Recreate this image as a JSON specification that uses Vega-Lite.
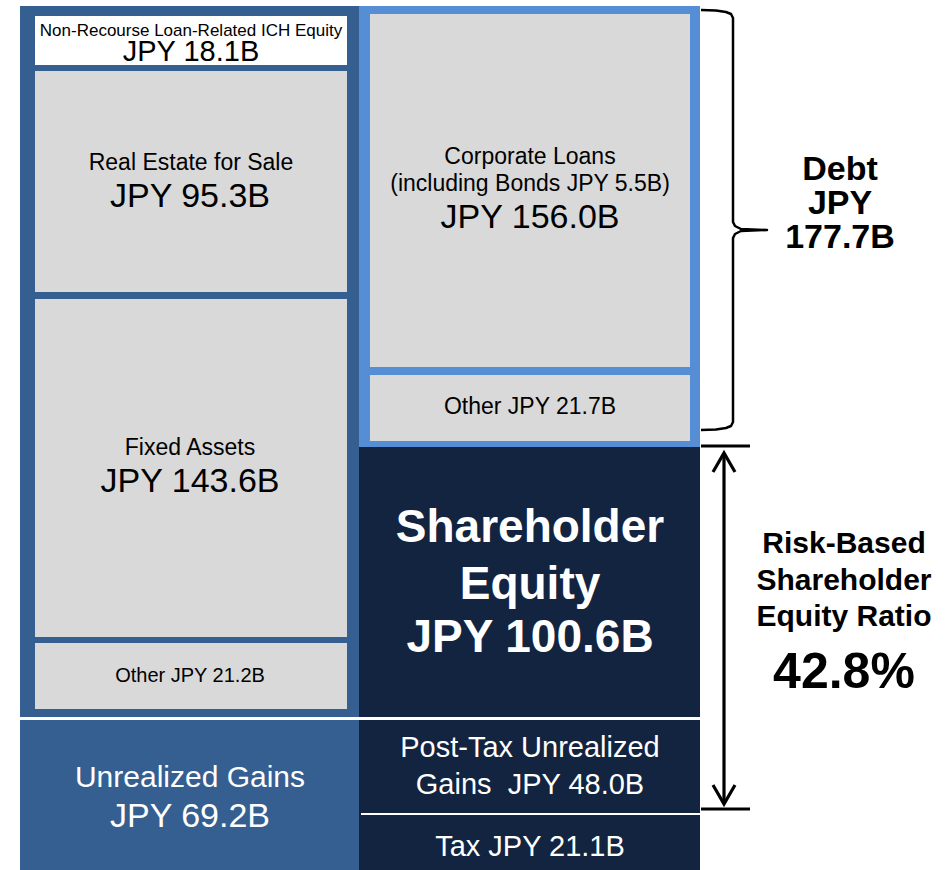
{
  "$schema": "https://vega.github.io/schema/vega-lite/v6.json",
  "width": 948,
  "height": 870,
  "padding": 0,
  "autosize": {"type": "fit", "contains": "padding"},
  "background": "white",
  "config": {"view": {"stroke": null}, "text": {"font": "Liberation Sans"}},
  "datasets": {
    "boxes": [
      {"name": "Assets frame", "kind": "dark", "x0": 20, "x1": 359, "y0": 6, "y1": 717},
      {"name": "Non-Recourse Loan-Related ICH Equity", "kind": "white", "x0": 35, "x1": 347, "y0": 16, "y1": 65},
      {"name": "Real Estate for Sale", "kind": "gray", "x0": 35, "x1": 347, "y0": 71, "y1": 292},
      {"name": "Fixed Assets", "kind": "gray", "x0": 35, "x1": 347, "y0": 299, "y1": 637},
      {"name": "Other assets", "kind": "gray", "x0": 35, "x1": 347, "y0": 643, "y1": 709},
      {"name": "Unrealized Gains", "kind": "dark", "x0": 20, "x1": 359, "y0": 720, "y1": 870},
      {"name": "Debt frame", "kind": "light", "x0": 359, "x1": 700, "y0": 6, "y1": 447},
      {"name": "Corporate Loans", "kind": "gray", "x0": 370, "x1": 690, "y0": 14, "y1": 367},
      {"name": "Other debt", "kind": "gray", "x0": 370, "x1": 690, "y0": 375, "y1": 441},
      {"name": "Shareholder Equity", "kind": "navy", "x0": 359, "x1": 700, "y0": 447, "y1": 717},
      {"name": "Post-Tax Unrealized Gains / Tax", "kind": "navy", "x0": 359, "x1": 700, "y0": 720, "y1": 870}
    ],
    "strokes": [
      {"g": "brace", "o": 1, "x": 701, "y": 10},
      {"g": "brace", "o": 2, "x": 716, "y": 10.5},
      {"g": "brace", "o": 3, "x": 726, "y": 12},
      {"g": "brace", "o": 4, "x": 731, "y": 14},
      {"g": "brace", "o": 5, "x": 733, "y": 18},
      {"g": "brace", "o": 6, "x": 733, "y": 222},
      {"g": "brace", "o": 7, "x": 735, "y": 226},
      {"g": "brace", "o": 8, "x": 741, "y": 229},
      {"g": "brace", "o": 9, "x": 767, "y": 230},
      {"g": "brace", "o": 10, "x": 741, "y": 231},
      {"g": "brace", "o": 11, "x": 735, "y": 234},
      {"g": "brace", "o": 12, "x": 733, "y": 238},
      {"g": "brace", "o": 13, "x": 733, "y": 422},
      {"g": "brace", "o": 14, "x": 731, "y": 426},
      {"g": "brace", "o": 15, "x": 726, "y": 428},
      {"g": "brace", "o": 16, "x": 716, "y": 429.5},
      {"g": "brace", "o": 17, "x": 701, "y": 430},
      {"g": "shaft", "o": 1, "x": 724, "y": 453},
      {"g": "shaft", "o": 2, "x": 724, "y": 804},
      {"g": "headtop", "o": 1, "x": 713, "y": 472},
      {"g": "headtop", "o": 2, "x": 724, "y": 453},
      {"g": "headtop", "o": 3, "x": 735, "y": 472},
      {"g": "headbot", "o": 1, "x": 713, "y": 785},
      {"g": "headbot", "o": 2, "x": 724, "y": 804},
      {"g": "headbot", "o": 3, "x": 735, "y": 785},
      {"g": "tick1", "o": 1, "x": 701, "y": 446},
      {"g": "tick1", "o": 2, "x": 750, "y": 446},
      {"g": "tick2", "o": 1, "x": 701, "y": 809},
      {"g": "tick2", "o": 2, "x": 750, "y": 809}
    ],
    "dividers": [
      {"x": 361, "x2": 700, "y": 814}
    ],
    "labels": [
      {"t": "Non-Recourse Loan-Related ICH Equity", "s": "tiny", "x": 191, "y": 31},
      {"t": "JPY 18.1B", "s": "val29", "x": 191, "y": 52},
      {"t": "Real Estate for Sale", "s": "lab23", "x": 191, "y": 163},
      {"t": "JPY 95.3B", "s": "val34", "x": 190, "y": 197},
      {"t": "Fixed Assets", "s": "lab23", "x": 190, "y": 448},
      {"t": "JPY 143.6B", "s": "val34", "x": 190, "y": 482},
      {"t": "Other JPY 21.2B", "s": "lab20", "x": 190, "y": 676},
      {"t": "Corporate Loans", "s": "lab23", "x": 530, "y": 157},
      {"t": "(including Bonds JPY 5.5B)", "s": "lab23", "x": 530, "y": 184},
      {"t": "JPY 156.0B", "s": "val34", "x": 530, "y": 218},
      {"t": "Other JPY 21.7B", "s": "lab23", "x": 530, "y": 407},
      {"t": "Unrealized Gains", "s": "w30", "x": 190, "y": 778},
      {"t": "JPY 69.2B", "s": "w34", "x": 190, "y": 817},
      {"t": "Post-Tax Unrealized", "s": "w29", "x": 530, "y": 748},
      {"t": "Gains\u00a0 JPY 48.0B", "s": "w29", "x": 530, "y": 785},
      {"t": "Tax JPY 21.1B", "s": "w29", "x": 530, "y": 847},
      {"t": "Shareholder", "s": "wb46", "x": 530, "y": 528},
      {"t": "Equity", "s": "wb46", "x": 530, "y": 585},
      {"t": "JPY 100.6B", "s": "wb46", "x": 530, "y": 638},
      {"t": "Debt", "s": "b34", "x": 840, "y": 170},
      {"t": "JPY", "s": "b34", "x": 840, "y": 204},
      {"t": "177.7B", "s": "b34", "x": 840, "y": 238},
      {"t": "Risk-Based", "s": "b30", "x": 844, "y": 544},
      {"t": "Shareholder", "s": "b30", "x": 844, "y": 581},
      {"t": "Equity Ratio", "s": "b30", "x": 844, "y": 617},
      {"t": "42.8%", "s": "b50", "x": 844, "y": 673}
    ]
  },
  "layer": [
    {
      "data": {"name": "boxes"},
      "mark": {"type": "rect"},
      "encoding": {
        "x": {"field": "x0", "type": "quantitative", "scale": {"domain": [0, 948], "nice": false, "zero": false}, "axis": null},
        "x2": {"field": "x1"},
        "y": {"field": "y0", "type": "quantitative", "scale": {"domain": [0, 870], "nice": false, "zero": false, "reverse": true}, "axis": null},
        "y2": {"field": "y1"},
        "color": {"field": "kind", "type": "nominal", "scale": {"domain": ["dark", "light", "navy", "gray", "white"], "range": ["#365F91", "#558ED5", "#12243F", "#D9D9D9", "#FFFFFF"]}, "legend": null}
      }
    },
    {
      "data": {"name": "dividers"},
      "mark": {"type": "rule", "color": "#FFFFFF", "strokeWidth": 2},
      "encoding": {
        "x": {"field": "x", "type": "quantitative", "scale": {"domain": [0, 948], "nice": false, "zero": false}, "axis": null},
        "x2": {"field": "x2"},
        "y": {"field": "y", "type": "quantitative", "scale": {"domain": [0, 870], "nice": false, "zero": false, "reverse": true}, "axis": null}
      }
    },
    {
      "data": {"name": "strokes"},
      "transform": [{"filter": "datum.g == 'brace'"}],
      "mark": {"type": "line", "color": "#000000", "strokeWidth": 2.5, "strokeJoin": "round"},
      "encoding": {
        "x": {"field": "x", "type": "quantitative", "scale": {"domain": [0, 948], "nice": false, "zero": false}, "axis": null},
        "y": {"field": "y", "type": "quantitative", "scale": {"domain": [0, 870], "nice": false, "zero": false, "reverse": true}, "axis": null},
        "detail": {"field": "g", "type": "nominal"},
        "order": {"field": "o", "type": "quantitative"}
      }
    },
    {
      "data": {"name": "strokes"},
      "transform": [{"filter": "datum.g != 'brace'"}],
      "mark": {"type": "line", "color": "#000000", "strokeWidth": 3.2, "strokeJoin": "miter"},
      "encoding": {
        "x": {"field": "x", "type": "quantitative", "scale": {"domain": [0, 948], "nice": false, "zero": false}, "axis": null},
        "y": {"field": "y", "type": "quantitative", "scale": {"domain": [0, 870], "nice": false, "zero": false, "reverse": true}, "axis": null},
        "detail": {"field": "g", "type": "nominal"},
        "order": {"field": "o", "type": "quantitative"}
      }
    },
    {
      "data": {"name": "labels"},
      "layer": [
        {"transform": [{"filter": "datum.s == 'tiny'"}], "mark": {"type": "text", "fontSize": 17, "color": "#000000", "baseline": "middle", "align": "center"}},
        {"transform": [{"filter": "datum.s == 'val29'"}], "mark": {"type": "text", "fontSize": 29, "color": "#000000", "baseline": "middle", "align": "center"}},
        {"transform": [{"filter": "datum.s == 'lab23'"}], "mark": {"type": "text", "fontSize": 23, "color": "#000000", "baseline": "middle", "align": "center"}},
        {"transform": [{"filter": "datum.s == 'lab20'"}], "mark": {"type": "text", "fontSize": 20, "color": "#000000", "baseline": "middle", "align": "center"}},
        {"transform": [{"filter": "datum.s == 'val34'"}], "mark": {"type": "text", "fontSize": 34, "color": "#000000", "baseline": "middle", "align": "center"}},
        {"transform": [{"filter": "datum.s == 'w30'"}], "mark": {"type": "text", "fontSize": 30, "color": "#FFFFFF", "baseline": "middle", "align": "center"}},
        {"transform": [{"filter": "datum.s == 'w34'"}], "mark": {"type": "text", "fontSize": 34, "color": "#FFFFFF", "baseline": "middle", "align": "center"}},
        {"transform": [{"filter": "datum.s == 'w29'"}], "mark": {"type": "text", "fontSize": 29, "color": "#FFFFFF", "baseline": "middle", "align": "center"}},
        {"transform": [{"filter": "datum.s == 'wb46'"}], "mark": {"type": "text", "fontSize": 46, "fontWeight": "bold", "color": "#FFFFFF", "baseline": "middle", "align": "center"}},
        {"transform": [{"filter": "datum.s == 'b34'"}], "mark": {"type": "text", "fontSize": 34, "fontWeight": "bold", "color": "#000000", "baseline": "middle", "align": "center"}},
        {"transform": [{"filter": "datum.s == 'b30'"}], "mark": {"type": "text", "fontSize": 30, "fontWeight": "bold", "color": "#000000", "baseline": "middle", "align": "center"}},
        {"transform": [{"filter": "datum.s == 'b50'"}], "mark": {"type": "text", "fontSize": 50, "fontWeight": "bold", "color": "#000000", "baseline": "middle", "align": "center"}}
      ],
      "encoding": {
        "x": {"field": "x", "type": "quantitative", "scale": {"domain": [0, 948], "nice": false, "zero": false}, "axis": null},
        "y": {"field": "y", "type": "quantitative", "scale": {"domain": [0, 870], "nice": false, "zero": false, "reverse": true}, "axis": null},
        "text": {"field": "t", "type": "nominal"}
      }
    }
  ]
}
